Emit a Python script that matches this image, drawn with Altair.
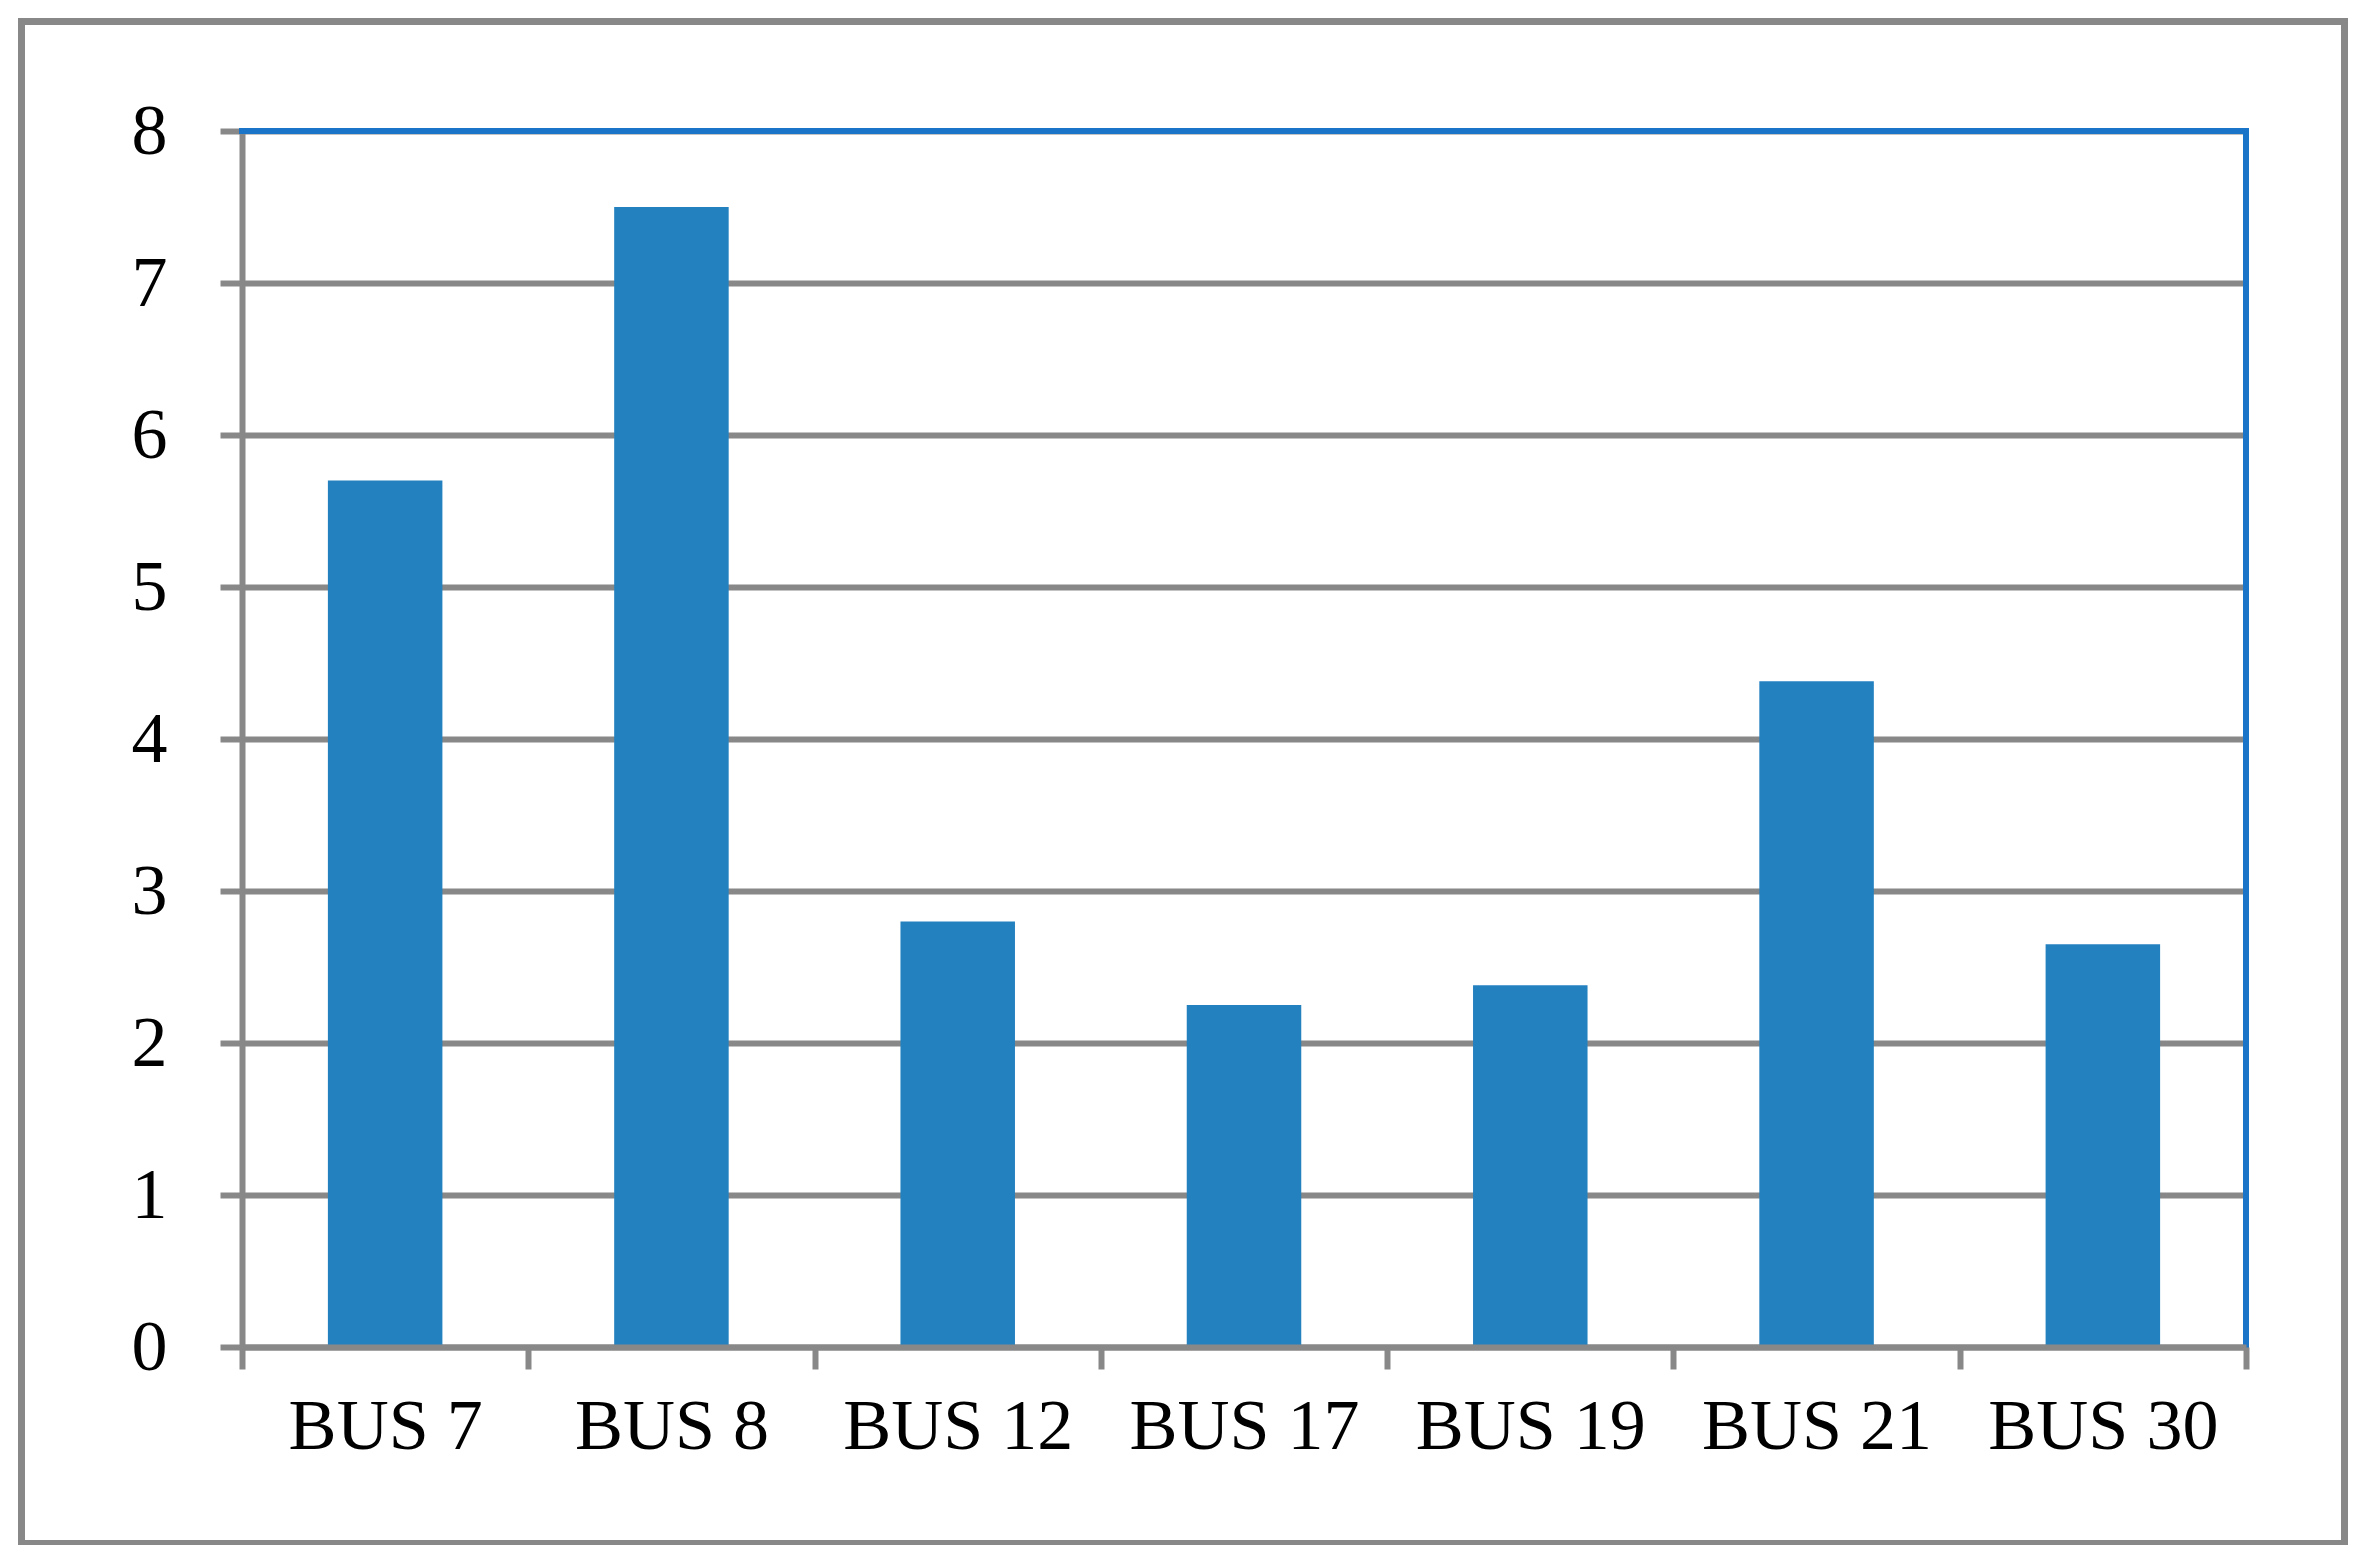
import altair as alt
import pandas as pd

categories = ["BUS 7", "BUS 8", "BUS 12", "BUS 17", "BUS 19", "BUS 21", "BUS 30"]
values = [5.70, 7.50, 2.80, 2.25, 2.38, 4.38, 2.65]
y_ticks = [0, 1, 2, 3, 4, 5, 6, 7, 8]

df = pd.DataFrame({"bus": categories, "value": values})

GRAY = "#888888"
BAR = "#2481C0"
FRAME_BLUE = "#1A75C9"
FONT = "'Liberation Serif', 'Times New Roman', Tinos, serif"

W, H = 2004, 1216

x_enc = alt.X(
    "bus:N",
    sort=categories,
    scale=alt.Scale(paddingInner=0, paddingOuter=0),
    axis=alt.Axis(
        title=None,
        labelAngle=0,
        labelLimit=0,
        tickBand="extent",
        domainColor=GRAY,
        domainWidth=6,
        tickColor=GRAY,
        tickWidth=6,
        tickSize=22,
        labelFont=FONT,
        labelFontSize=72,
        labelColor="black",
        labelPadding=22,
        grid=False,
        zindex=1,
    ),
)

y_enc = alt.Y(
    "value:Q",
    scale=alt.Scale(domain=[0, 8], nice=False),
    axis=alt.Axis(
        title=None,
        values=y_ticks,
        format="d",
        domainColor=GRAY,
        domainWidth=6,
        tickColor=GRAY,
        tickWidth=6,
        tickSize=22,
        grid=True,
        gridColor=GRAY,
        gridWidth=6,
        gridOpacity=1,
        labelFont=FONT,
        labelFontSize=72,
        labelColor="black",
        labelPadding=53,
        zindex=0,
    ),
)

bars = alt.Chart(df).mark_bar(
    color=BAR, width=alt.RelativeBandSize(0.4)
).encode(x=x_enc, y=y_enc)

# blue plot-area border (top and right edges)
top_edge = alt.Chart(df).mark_rule(
    color=FRAME_BLUE, strokeWidth=6, strokeCap="square"
).encode(
    x=alt.value(0),
    x2=alt.value(W),
    y=alt.datum(8),
)
right_edge = alt.Chart(df).mark_rule(
    color=FRAME_BLUE, strokeWidth=6, strokeCap="square"
).encode(
    x=alt.value(W),
    y=alt.datum(0),
    y2=alt.datum(8),
)

frame = alt.Chart(df).mark_rect(
    fill=None, stroke=GRAY, strokeWidth=7, clip=False
).encode(
    x=alt.value(-220.5),
    x2=alt.value(2102.5),
    y=alt.value(-109.5),
    y2=alt.value(1412.5),
)

chart = alt.layer(frame, bars, top_edge, right_edge).properties(
    width=W,
    height=H,
    autosize=alt.AutoSizeParams(type="none"),
    padding={"left": 234, "top": 123, "right": 112, "bottom": 198},
    background="white",
).configure_view(
    strokeWidth=0,
)

chart.save("out.html", embed_options={"renderer": "svg", "actions": False})
